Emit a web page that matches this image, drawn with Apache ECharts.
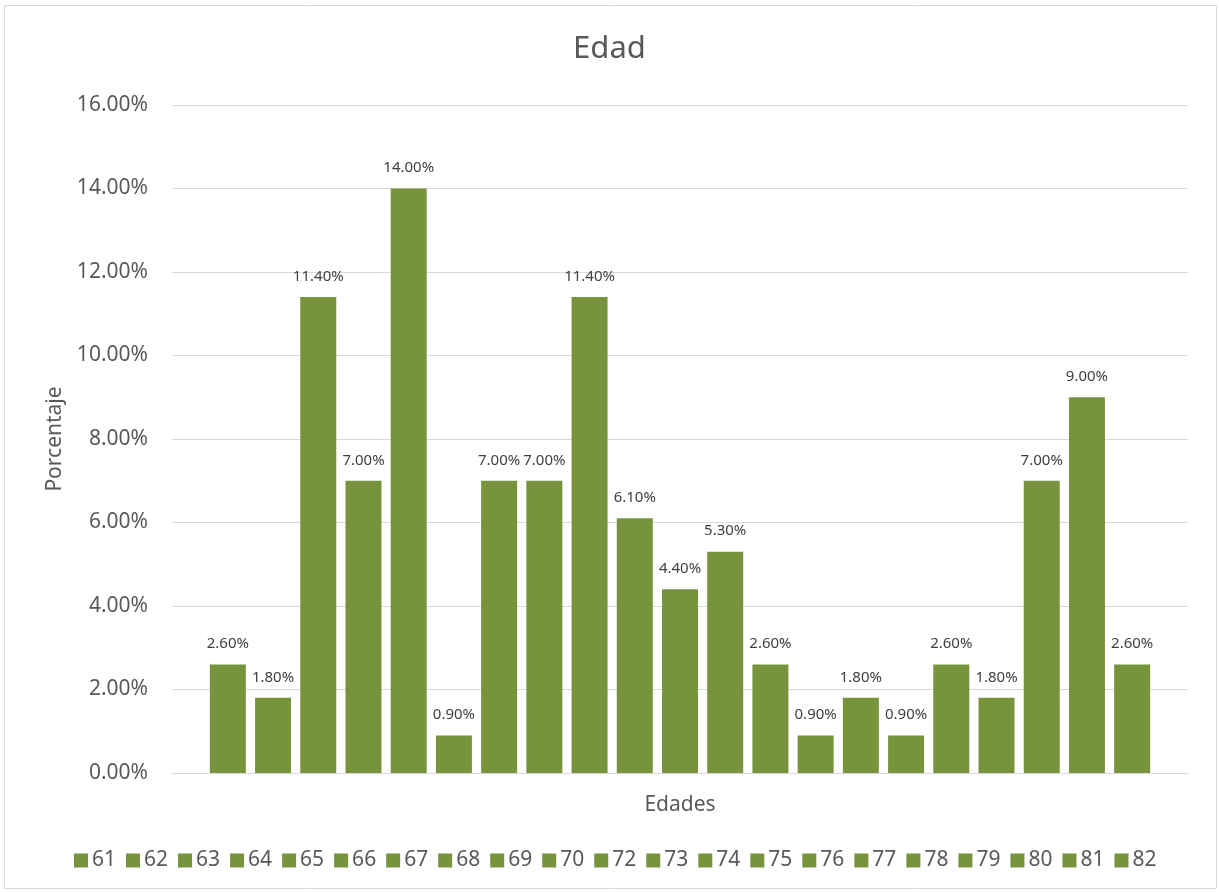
<!DOCTYPE html>
<html>
<head>
<meta charset="utf-8">
<script src="https://cdn.jsdelivr.net/npm/echarts@6/dist/echarts.min.js"></script>
<style>html,body{margin:0;padding:0;background:#fff}#c{width:1219px;height:892px}</style>
</head>
<body>
<div id="c"></div>
<script>
const ages = ['61','62','63','64','65','66','67','68','69','70','72','73','74','75','76','77','78','79','80','81','82'];
const values = [2.6,1.8,11.4,7.0,14.0,0.9,7.0,7.0,11.4,6.1,4.4,5.3,2.6,0.9,1.8,0.9,2.6,1.8,7.0,9.0,2.6];
const yTicks = {min:0, max:16, interval:2};
const FONT = '"Noto Sans", sans-serif';
const green = '#77933C';

const chart = echarts.init(document.getElementById('c'), null, {renderer:'canvas'});
const series = ages.map((a,i)=>({
  name: a,
  type: 'bar',
  data: [values[i]],
  barWidth: 36,
  barGap: '25.6%',
  itemStyle: {color: green},
  label: {show:true, position:'top', distance:13, color:'#404040', fontSize:15, fontFamily:FONT,
          formatter: p => p.value.toFixed(2)+'%'}
}));
chart.setOption({
  animation:false,
  backgroundColor:'#fff',
  color:[green],
  title:{text:'Edad', left:'center', top:34, padding:0,
         textStyle:{fontFamily:FONT, fontSize:31, fontWeight:'normal', color:'#595959'}},
  grid:{left:172, right:31, top:105, bottom:119, containLabel:false},
  legend:{data:ages, top:850, left:74, padding:0, itemWidth:14, itemHeight:14, itemGap:10,
          icon:'rect', textStyle:{fontFamily:FONT, fontSize:21, color:'#595959', padding:[0,0,0,-1]}},
  xAxis:{type:'category', data:[''], name:'Edades', nameLocation:'middle', nameGap:22,
         nameTextStyle:{fontFamily:FONT, fontSize:21, color:'#595959'},
         axisLine:{lineStyle:{color:'#D9D9D9', width:1}}, axisTick:{show:false}, axisLabel:{show:false}},
  yAxis:{type:'value', min:yTicks.min, max:yTicks.max, interval:yTicks.interval,
         name:'Porcentaje', nameLocation:'middle', nameGap:102, nameRotate:90,
         nameTextStyle:{fontFamily:FONT, fontSize:21, color:'#595959'},
         axisLine:{show:false}, axisTick:{show:false},
         axisLabel:{fontFamily:FONT, fontSize:21, color:'#595959', margin:24, formatter:v=>v.toFixed(2)+'%'},
         splitLine:{lineStyle:{color:'#D9D9D9', width:1}}},
  graphic:[{type:'rect', shape:{x:4.5, y:5.5, width:1212, height:883}, silent:true, z:-1,
            style:{fill:null, stroke:'#D9D9D9', lineWidth:1}}],
  series: series
});
</script>
</body>
</html>
